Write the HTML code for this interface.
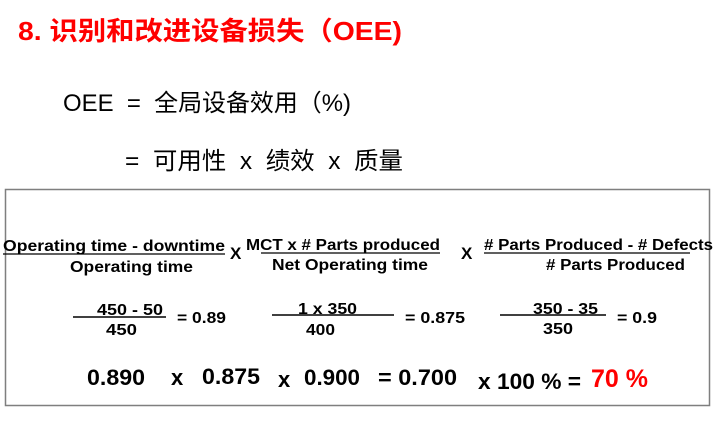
<!DOCTYPE html>
<html><head><meta charset="utf-8"><style>
html,body{margin:0;padding:0;background:#fff;width:715px;height:436px;overflow:hidden}
svg{display:block}
text{white-space:pre}
.b{font-family:"Liberation Sans","Noto Sans CJK SC",sans-serif;font-weight:bold}
.n{font-family:"Liberation Sans","Noto Sans CJK SC",sans-serif}
</style></head><body>
<svg width="715" height="436" viewBox="0 0 715 436" xmlns="http://www.w3.org/2000/svg" xml:space="preserve">
<text class="b" x="18" y="40" font-size="26" fill="#ff0000" textLength="384" lengthAdjust="spacingAndGlyphs">8. 识别和改进设备损失（OEE)</text>
<text class="n" x="63" y="111" font-size="24" fill="#000" textLength="288" lengthAdjust="spacingAndGlyphs">OEE  =  全局设备效用（%)</text>
<text class="n" x="125" y="169" font-size="24" fill="#000" textLength="278" lengthAdjust="spacingAndGlyphs">=  可用性  x  绩效  x  质量</text>
<rect x="5.5" y="189.5" width="704" height="216" fill="none" stroke="#7f7f7f" stroke-width="1.5"/>
<g class="b" font-size="16" fill="#000">
<text x="3" y="251" textLength="222" lengthAdjust="spacingAndGlyphs">Operating time - downtime</text>
<line x1="3" y1="254" x2="225" y2="254" stroke="#000" stroke-width="1.3"/>
<text x="70" y="272" textLength="123" lengthAdjust="spacingAndGlyphs">Operating time</text>
<text x="230" y="259" font-size="17">X</text>
<text x="246" y="250" textLength="194" lengthAdjust="spacingAndGlyphs">MCT x # Parts produced</text>
<line x1="261" y1="253" x2="440" y2="253" stroke="#000" stroke-width="1.3"/>
<text x="272" y="270" textLength="156" lengthAdjust="spacingAndGlyphs">Net Operating time</text>
<text x="461" y="259" font-size="17">X</text>
<text x="484" y="250" textLength="229" lengthAdjust="spacingAndGlyphs"># Parts Produced - # Defects</text>
<line x1="484" y1="253" x2="690" y2="253" stroke="#000" stroke-width="1.3"/>
<text x="546" y="270" textLength="139" lengthAdjust="spacingAndGlyphs"># Parts Produced</text>

<text x="97" y="315" textLength="66" lengthAdjust="spacingAndGlyphs">450 - 50</text>
<line x1="73" y1="317" x2="166" y2="317" stroke="#000" stroke-width="1.5"/>
<text x="106" y="335" textLength="31" lengthAdjust="spacingAndGlyphs">450</text>
<text x="177" y="323" textLength="49" lengthAdjust="spacingAndGlyphs">= 0.89</text>
<text x="298" y="314" textLength="59" lengthAdjust="spacingAndGlyphs">1 x 350</text>
<line x1="272" y1="315" x2="394" y2="315" stroke="#000" stroke-width="1.5"/>
<text x="306" y="335" textLength="29" lengthAdjust="spacingAndGlyphs">400</text>
<text x="405" y="323" textLength="60" lengthAdjust="spacingAndGlyphs">= 0.875</text>
<text x="533" y="314" textLength="65" lengthAdjust="spacingAndGlyphs">350 - 35</text>
<line x1="500" y1="315" x2="606" y2="315" stroke="#000" stroke-width="1.5"/>
<text x="543" y="334" textLength="30" lengthAdjust="spacingAndGlyphs">350</text>
<text x="617" y="323" textLength="40" lengthAdjust="spacingAndGlyphs">= 0.9</text>
</g>
<g class="b" font-size="22" fill="#000">
<text x="87" y="385" textLength="58" lengthAdjust="spacingAndGlyphs">0.890</text>
<text x="171" y="385">x</text>
<text x="202" y="384" textLength="58" lengthAdjust="spacingAndGlyphs">0.875</text>
<text x="278" y="387">x</text>
<text x="304" y="385" textLength="56" lengthAdjust="spacingAndGlyphs">0.900</text>
<text x="378" y="385" textLength="79" lengthAdjust="spacingAndGlyphs">= 0.700</text>
<text x="478" y="389" textLength="103" lengthAdjust="spacingAndGlyphs">x 100 % =</text>
<text x="591" y="387" font-size="25" fill="#ff0000" textLength="57" lengthAdjust="spacingAndGlyphs">70 %</text>
</g>
</svg>
</body></html>
